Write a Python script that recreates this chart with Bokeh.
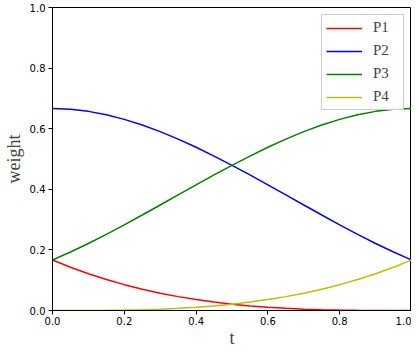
from bokeh.plotting import figure
from bokeh.models import Range1d, Legend, LegendItem, FixedTicker
from bokeh.embed import file_html
from bokeh.resources import INLINE

t = [0.0, 0.05, 0.1, 0.15, 0.2, 0.25, 0.3, 0.35, 0.4, 0.45, 0.5,
     0.55, 0.6, 0.65, 0.7, 0.75, 0.8, 0.85, 0.9, 0.95, 1.0]
p1 = [0.1667, 0.1429, 0.1215, 0.1024, 0.0853, 0.0703, 0.0572, 0.0458, 0.0360, 0.0277, 0.0208,
      0.0152, 0.0107, 0.0071, 0.0045, 0.0026, 0.0013, 0.0006, 0.0002, 0.0000, 0.0]
p2 = [0.6667, 0.6642, 0.6572, 0.6459, 0.6307, 0.6120, 0.5902, 0.5656, 0.5387, 0.5097, 0.4792,
      0.4474, 0.4147, 0.3815, 0.3482, 0.3151, 0.2827, 0.2512, 0.2212, 0.1929, 0.1667]
p3 = [0.1667, 0.1929, 0.2212, 0.2512, 0.2827, 0.3151, 0.3482, 0.3815, 0.4147, 0.4474, 0.4792,
      0.5097, 0.5387, 0.5656, 0.5902, 0.6120, 0.6307, 0.6459, 0.6572, 0.6642, 0.6667]
p4 = [0.0, 0.0000, 0.0002, 0.0006, 0.0013, 0.0026, 0.0045, 0.0071, 0.0107, 0.0152, 0.0208,
      0.0277, 0.0360, 0.0458, 0.0572, 0.0703, 0.0853, 0.1024, 0.1215, 0.1429, 0.1667]
names = ["P1", "P2", "P3", "P4"]
colors = ["#ff0000", "#0000ff", "#008000", "#bfbf00"]
ticks = [0.0, 0.2, 0.4, 0.6, 0.8, 1.0]

p = figure(width=411, height=350, output_backend="svg", toolbar_location=None,
           x_range=Range1d(0, 1), y_range=Range1d(0, 1),
           min_border_left=0, min_border_right=0, min_border_top=7, min_border_bottom=0)
p.grid.visible = False
p.outline_line_color = "#000000"
p.outline_line_width = 1

items = []
for ys, n, c in zip([p1, p2, p3, p4], names, colors):
    r = p.line(t, ys, line_color=c, line_width=1.5)
    items.append(LegendItem(label=n, renderers=[r]))

legend = Legend(items=items, location="top_right")
legend.label_text_font = "Liberation Serif"
legend.label_text_font_size = "15px"
legend.glyph_width = 36
legend.glyph_height = 16
legend.label_height = 16
legend.label_width = 26
legend.label_standoff = 11
legend.spacing = 6
legend.padding = 4
legend.margin = 7
legend.border_line_color = "#cccccc"
legend.border_line_alpha = 1
legend.background_fill_alpha = 0.9
p.add_layout(legend)

for ax in (p.xaxis, p.yaxis):
    ax.ticker = FixedTicker(ticks=ticks)
    ax.minor_tick_line_color = None
    ax.major_tick_out = 4
    ax.major_tick_in = 0
    ax.major_label_standoff = 3
    ax.major_label_text_font = "DejaVu Sans"
    ax.major_label_text_font_size = "10px"
    ax.major_label_text_color = "#000000"
    ax.axis_line_color = "#000000"
    ax.major_tick_line_color = "#000000"
    ax.axis_label_text_font = "Liberation Serif"
    ax.axis_label_text_font_size = "18px"
    ax.axis_label_text_font_style = "normal"
p.xaxis.axis_label = "t"
p.yaxis.axis_label = "weight"
p.xaxis.major_label_overrides = {v: f"{v:.1f}" for v in ticks}
p.yaxis.major_label_overrides = {v: f"{v:.1f}" for v in ticks}
p.xaxis.major_label_standoff = 2
p.xaxis.axis_label_standoff = 0
p.yaxis.axis_label_standoff = 3

open("out.html", "w").write(file_html(p, INLINE))
